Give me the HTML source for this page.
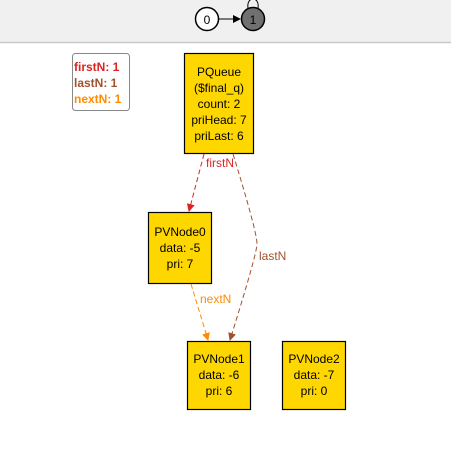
<!DOCTYPE html>
<html><head><style>
body{margin:0;width:451px;height:454px;background:#fff;overflow:hidden;font-family:"Liberation Sans",Arial,sans-serif}
</style></head><body>
<svg width="451" height="454" xmlns="http://www.w3.org/2000/svg" font-family="Liberation Sans, Arial, sans-serif">
<defs>
<marker id="a" markerWidth="8" markerHeight="8" refX="7" refY="4" orient="auto" markerUnits="userSpaceOnUse"><path d="M0,0 L8,4 L0,8 z" fill="context-stroke"/></marker>
<marker id="r" markerWidth="8" markerHeight="8" refX="7" refY="4" orient="auto" markerUnits="userSpaceOnUse"><path d="M0,0 L8,4 L0,8 z" fill="#dd2222"/></marker>
<marker id="b" markerWidth="8" markerHeight="8" refX="7" refY="4" orient="auto" markerUnits="userSpaceOnUse"><path d="M0,0 L8,4 L0,8 z" fill="#a0522d"/></marker>
<marker id="o" markerWidth="8" markerHeight="8" refX="7" refY="4" orient="auto" markerUnits="userSpaceOnUse"><path d="M0,0 L8,4 L0,8 z" fill="#ff8c00"/></marker>
<marker id="k" markerWidth="8" markerHeight="8" refX="7" refY="4" orient="auto" markerUnits="userSpaceOnUse"><path d="M0,0 L8,4 L0,8 z" fill="#000"/></marker>
</defs>
<rect x="0" y="0" width="451" height="42" fill="#f0f0f0"/>
<line x1="0" y1="42.5" x2="451" y2="42.5" stroke="#c8c8c8" stroke-width="1.5"/>
<path d="M248,8 C246,-4 260,-4 258,8" fill="none" stroke="#000"/>
<circle cx="207" cy="19" r="11.5" fill="#fff" stroke="#000" stroke-width="1.5"/>
<text x="207" y="24" font-size="12" text-anchor="middle">0</text>
<line x1="219" y1="19" x2="240" y2="19" stroke="#000" marker-end="url(#k)"/>
<circle cx="253" cy="19" r="11.5" fill="#707070" stroke="#000" stroke-width="1.5"/>
<text x="253" y="24" font-size="12" text-anchor="middle">1</text>

<rect x="72.5" y="53.5" width="57" height="57" rx="3" fill="#fff" stroke="#888"/>
<text x="74" y="71" font-size="12" font-weight="bold" fill="#dd2222">firstN: 1</text>
<text x="74" y="87" font-size="12" font-weight="bold" fill="#a0522d">lastN: 1</text>
<text x="74" y="103" font-size="12" font-weight="bold" fill="#ff8c00">nextN: 1</text>

<g stroke="#000" stroke-width="1.2" fill="#ffd700">
<rect x="184.5" y="53.5" width="69" height="100"/>
<rect x="148.5" y="212.5" width="63" height="71"/>
<rect x="187.5" y="341.5" width="63" height="68"/>
<rect x="282.5" y="341.5" width="63" height="68"/>
</g>
<g font-size="12" text-anchor="middle">
<text x="219" y="76">PQueue</text><text x="219" y="92">($final_q)</text><text x="219" y="108">count: 2</text><text x="219" y="124">priHead: 7</text><text x="219" y="140">priLast: 6</text>
<text x="180" y="236">PVNode0</text><text x="180" y="252">data: -5</text><text x="180" y="268">pri: 7</text>
<text x="219" y="363">PVNode1</text><text x="219" y="379">data: -6</text><text x="219" y="395">pri: 6</text>
<text x="314" y="363">PVNode2</text><text x="314" y="379">data: -7</text><text x="314" y="395">pri: 0</text>
</g>
<path d="M204,154 L189,211" stroke="#dd2222" stroke-dasharray="5,3" fill="none" marker-end="url(#r)"/>
<text x="206" y="167" font-size="12" fill="#dd2222">firstN</text>
<path d="M233,154 Q258,235 257,245 Q255,260 230,340" stroke="#a0522d" stroke-dasharray="5,3" fill="none" marker-end="url(#b)"/>
<text x="259" y="260" font-size="12" fill="#a0522d">lastN</text>
<path d="M191,284 L208,340" stroke="#ff8c00" stroke-dasharray="5,3" fill="none" marker-end="url(#o)"/>
<text x="200" y="303" font-size="12" fill="#ff8c00">nextN</text>
</svg>
</body></html>
